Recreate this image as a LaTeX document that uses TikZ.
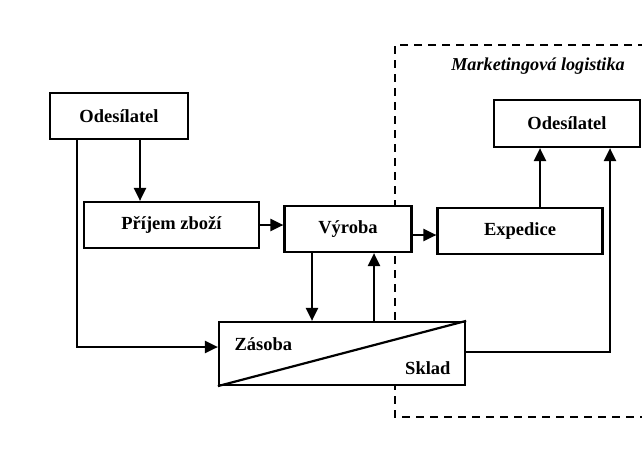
\documentclass[tikz,border=0pt]{standalone}
\usepackage{fontspec}
\setmainfont{Liberation Serif}
\usetikzlibrary{arrows.meta}
\begin{document}
\begin{tikzpicture}[x=1pt,y=-1pt,
  lbl/.style={font=\fontsize{18.5}{21}\selectfont\bfseries},
  box/.style={lbl,draw,line width=2.2pt,fill=white,inner sep=0pt},
  conn/.style={line width=2.2pt,-{Triangle[length=13pt,width=12pt]}},
  plain/.style={line width=2.2pt}]
\useasboundingbox (0,0) rectangle (642,450);
% dashed region
\draw[line width=2.2pt,dash pattern=on 8pt off 6pt] (660,45) -- (395,45) -- (395,417) -- (660,417);
\node[font=\fontsize{18.2}{21}\selectfont\bfseries\itshape] (title) at (538,66) {Marketingová logistika};
% boxes
\node[box,minimum width=138pt,minimum height=46pt] (od1) at (119,116) {Odesílatel};
\node[box,minimum width=175pt,minimum height=46pt] (pz) at (171.5,225) {Příjem zboží};
\node[box,minimum width=127pt,minimum height=46pt] (vy) at (348,229) {Výroba};
\node[box,minimum width=165pt,minimum height=46pt] (ex) at (520,231) {Expedice};
\node[box,minimum width=146pt,minimum height=47pt] (od2) at (567,123.5) {Odesílatel};
\node[box,minimum width=246pt,minimum height=63pt] (zs) at (342,353.5) {};
\draw[plain] (zs.south west) -- (zs.north east);
\node[lbl,anchor=west] (zt) at (231,344) {Zásoba};
\node[lbl,anchor=east] (st) at (454,368) {Sklad};
% connectors
\draw[conn] (od1.south -| 140,0) -- (pz.north -| 140,0);
\draw[conn] (od1.south -| 77,0) |- (zs.west |- 0,347);
\draw[conn] (pz.east) -- (vy.west |- pz.east);
\draw[conn] (vy.east |- 0,235) -- (ex.west |- 0,235);
\draw[conn] (vy.south -| 312,0) -- (zs.north -| 312,0);
\draw[conn] (zs.north -| 374,0) -- (vy.south -| 374,0);
\draw[conn] (ex.north -| 540,0) -- (od2.south -| 540,0);
\draw[conn] (zs.east |- 0,352) -| (od2.south -| 610,0);
\end{tikzpicture}
\end{document}
